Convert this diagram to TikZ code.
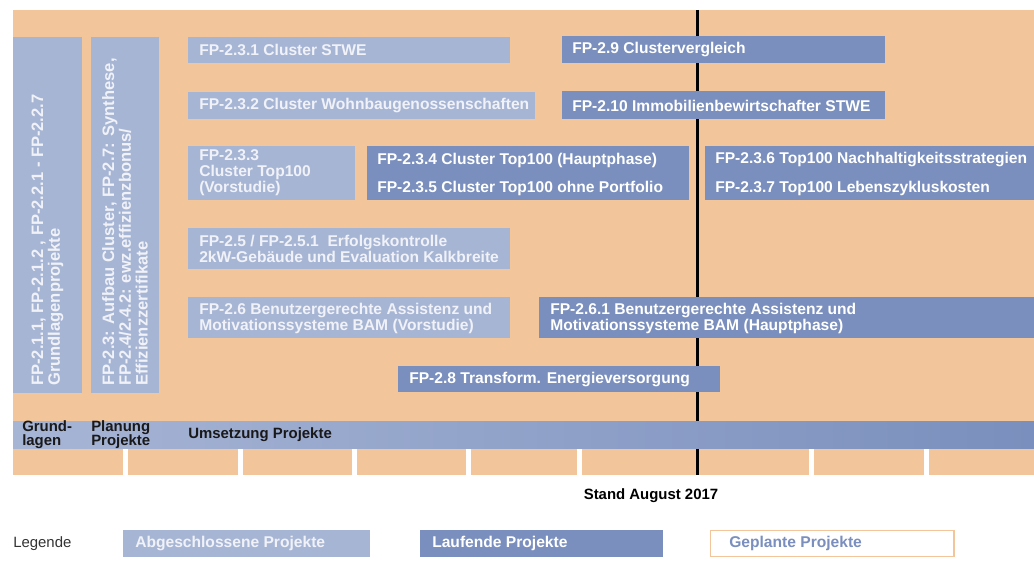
\documentclass[tikz,border=0pt]{standalone}
\usepackage{fontspec}
\setmainfont{Liberation Sans}
\definecolor{planorange}{HTML}{F2C69A}
\definecolor{doneblue}{HTML}{A7B5D5}
\definecolor{runblue}{HTML}{7A8FBD}
\definecolor{donetext}{HTML}{F0F2F8}
\newcommand{\projfont}{\bfseries\fontsize{11.7}{12}\selectfont}
\tikzset{
    donetxt/.style={anchor=west, align=left, inner sep=0pt, text=donetext, font=\projfont},
    runtxt/.style={anchor=west, align=left, inner sep=0pt, text=white, font=\projfont},
    verttxt/.style={donetxt, rotate=90, font=\bfseries\fontsize{12.4}{12.6}\selectfont},
    phasetxt/.style={anchor=west, align=left, inner sep=0pt, text=black!90, font=\bfseries\fontsize{11.2}{10.5}\selectfont},
    gap/.style={fill=white},
}
\begin{document}
\begin{tikzpicture}[x=0.75pt, y=-0.75pt]
    \useasboundingbox (0,0) rectangle (1034,560);

    % Hintergrund und Stichtag
    \fill[planorange] (13,10) rectangle (1034,475);
    \foreach \x in {125.8,240,354.5,468.5,579.5,811.5,926.5}
        \fill[gap] (\x-2.5,448) rectangle (\x+2.5,476);
    \draw[line width=2.4pt] (697.5,10) -- (697.5,475);
    \shade[left color=doneblue, right color=runblue] (13,421) rectangle (1034,448);

    % Grundlagen und Planung (vertikal)
    \fill[doneblue] (13,37) rectangle (82,393);
    \node[verttxt] (grundl) at (47.5,386)
        {FP-2.1.1, FP-2.1.2 , FP-2.2.1 - FP-2.2.7\\Grundlagenprojekte};
    \fill[doneblue] (91,37) rectangle (159,393);
    \node[verttxt] (planung) at (125,386)
        {FP-2.3: Aufbau Cluster, FP-2.7: Synthese,\\FP-2.4/2.4.2: ewz.effizienzbonus/\\Effizienzzertifikate};

    % Abgeschlossene Projekte
    \fill[doneblue] (188,37) rectangle (510,63);
    \node[donetxt] (stwe) at (199,50) {FP-2.3.1 Cluster STWE};
    \fill[doneblue] (188,92) rectangle (535,119);
    \node[donetxt] (wbg) at (199,105.5) {FP-2.3.2 Cluster Wohnbaugenossenschaften};
    \fill[doneblue] (188,146) rectangle (355,200);
    \node[donetxt] (vorst) at (199,173) {FP-2.3.3\\Cluster Top100\\(Vorstudie)};
    \fill[doneblue] (188,228) rectangle (510,269);
    \node[donetxt] (erfolg) at (199,249) {FP-2.5 / FP-2.5.1~ Erfolgskontrolle\\2kW-Gebäude und Evaluation Kalkbreite};
    \fill[doneblue] (188,297) rectangle (510,338);
    \node[donetxt] (bamvor) at (199,318) {FP-2.6 Benutzergerechte Assistenz und\\Motivationssysteme BAM (Vorstudie)};

    % Laufende Projekte
    \fill[runblue] (562,36) rectangle (885,63);
    \node[runtxt] (vergl) at (572,50) {FP-2.9 Clustervergleich};
    \fill[runblue] (562,91) rectangle (885,119);
    \node[runtxt] (immo) at (572,105.5) {FP-2.10 Immobilienbewirtschafter STWE};
    \fill[runblue] (367,146) rectangle (689,200);
    \node[runtxt] (haupt) at (377,160) {FP-2.3.4 Cluster Top100 (Hauptphase)};
    \node[runtxt] (portf) at (377,188) {FP-2.3.5 Cluster Top100 ohne Portfolio};
    \fill[runblue] (705,146) rectangle (1034,200);
    \node[runtxt] (nachh) at (715,160) {FP-2.3.6 Top100 Nachhaltigkeitsstrategien};
    \node[runtxt] (lzk) at (715,188) {FP-2.3.7 Top100 Lebenszykluskosten};
    \fill[runblue] (539,297) rectangle (1034,338);
    \node[runtxt] (bamhaupt) at (550,318) {FP-2.6.1 Benutzergerechte Assistenz und\\Motivationssysteme BAM (Hauptphase)};
    \fill[runblue] (398,366) rectangle (720,392);
    \node[runtxt] (energie) at (409,379) {FP-2.8 Transform. Energieversorgung};

    % Phasen
    \node[phasetxt] (phgrund) at (22,434.5) {Grund-\\lagen};
    \node[phasetxt] (phplan) at (91,434.5) {Planung\\Projekte};
    \node[phasetxt] (phums) at (188,434.5) {Umsetzung Projekte};
    \node[font=\bfseries\fontsize{11.2}{12}\selectfont, inner sep=0pt] (stand) at (651,496) {Stand August 2017};

    % Legende
    \node[anchor=west, inner sep=0pt, text=black!80, font=\fontsize{11.2}{12}\selectfont] (leg) at (13,544) {Legende};
    \fill[doneblue] (123,530) rectangle (370,557);
    \node[donetxt] (legdone) at (135,543.5) {Abgeschlossene Projekte};
    \fill[runblue] (420,530) rectangle (663,557);
    \node[runtxt] (legrun) at (432,543.5) {Laufende Projekte};
    \draw[planorange, fill=white, line width=0.9pt] (710.5,530.5) rectangle (954,556.5);
    \node[runtxt, text=runblue] (legplan) at (729,543.5) {Geplante Projekte};
\end{tikzpicture}
\end{document}
